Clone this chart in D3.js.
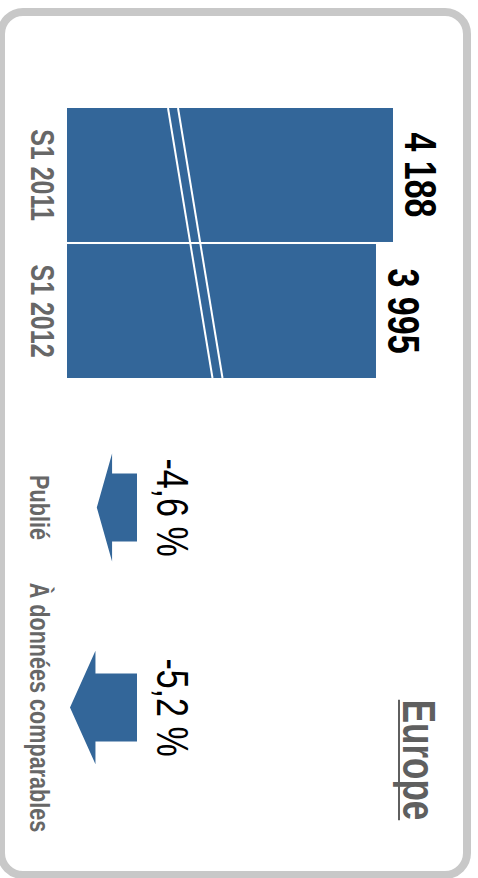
<!DOCTYPE html>
<html>
<head>
<meta charset="utf-8">
<script src="https://cdn.jsdelivr.net/npm/d3@7"></script>
<style>
  html, body { margin: 0; padding: 0; background: #ffffff; }
  svg { display: block; }
  text { font-family: "Liberation Sans", Arial, sans-serif; }
</style>
</head>
<body>
<svg id="chart" width="478" height="878"></svg>
<script>
// Half-year revenue, Europe
const periods = ["S1 2011", "S1 2012"];
const revenue = [4188, 3995];

// Change between the two half-years
const changeLabels = ["Publié", "À données comparables"];
const changeValues = [-4.6, -5.2];

const title = "Europe";

const W = 478, H = 878;
const svg = d3.select("#chart");

// French number formatting: space thousands separator, comma decimal
const fr = d3.formatLocale({
  decimal: ",", thousands: " ", grouping: [3],
  currency: ["", " €"], minus: "-"
});
const fmtInt = fr.format(",d");
const fmtPct = fr.format(".1f");

// The panel is laid out sideways: text reads top to bottom,
// glyphs are slightly tall, as in the printed slide.
const STRETCH = 1.3;
function sideText(sel, x, y) {
  return sel.attr("transform", `translate(${x},${y}) rotate(90) scale(1,${STRETCH})`)
    .attr("text-anchor", "middle");
}

// Rounded frame
svg.append("rect")
  .attr("x", 1).attr("y", 12)
  .attr("width", 466).attr("height", 863)
  .attr("rx", 22).attr("ry", 22)
  .attr("fill", "#ffffff")
  .attr("stroke", "#c8c8c8")
  .attr("stroke-width", 8);

const barColor = "#336699";
const labelGrey = "#676767";

// Bars: value runs along x (broken axis, so the domain does not start at 0)
const x = d3.scaleLinear().domain([490, 4188]).range([67, 393]);
const y = d3.scaleBand().domain(periods).range([108, 378]).paddingInner(0.015);

const bars = svg.append("g");
bars.selectAll("rect")
  .data(periods)
  .join("rect")
  .attr("x", x.range()[0])
  .attr("y", d => y(d))
  .attr("width", (d, i) => x(revenue[i]) - x.range()[0])
  .attr("height", y.bandwidth())
  .attr("fill", barColor);

// Axis-break marks: two parallel white slashes across both bars
const top0 = y.range()[0], bot0 = y.range()[1];
[0, 10].forEach(off => {
  bars.append("line")
    .attr("x1", 168 + off).attr("y1", top0)
    .attr("x2", 212.5 + off).attr("y2", bot0)
    .attr("stroke", "#ffffff")
    .attr("stroke-width", 2);
});

// Category labels
svg.append("g").selectAll("text")
  .data(periods)
  .join("text")
  .each(function (d) { sideText(d3.select(this), 30.5, y(d) + y.bandwidth() / 2); })
  .attr("font-size", 25)
  .attr("font-weight", "bold")
  .attr("fill", labelGrey)
  .text(d => d);

// Value labels at bar ends
svg.append("g").selectAll("text")
  .data(periods)
  .join("text")
  .each(function (d, i) { sideText(d3.select(this), x(revenue[i]) + 12, y(d) + y.bandwidth() / 2); })
  .attr("font-size", 34)
  .attr("font-weight", "bold")
  .attr("fill", "#000000")
  .text((d, i) => fmtInt(revenue[i]));

// Change arrows: pointing left (downward trend), length scaled on |change|
const c = d3.scalePoint().domain(changeLabels).range([407.5, 807.5]).padding(0.5);
const len = d3.scaleLinear().domain([3.7, 5.2]).range([0, 67]);
const arrowBase = 137, bodyHalf = 34;

svg.append("g").selectAll("path")
  .data(changeLabels)
  .join("path")
  .attr("d", (d, i) => {
    const L = len(Math.abs(changeValues[i]));
    const h = 0.38 * L;
    const hw = 50 + 0.1 * L;
    const cy = c(d);
    const neck = arrowBase - L + h;
    const pts = [
      [arrowBase, cy - bodyHalf], [neck, cy - bodyHalf], [neck, cy - hw],
      [arrowBase - L, cy], [neck, cy + hw], [neck, cy + bodyHalf], [arrowBase, cy + bodyHalf]
    ];
    return d3.line()(pts) + "Z";
  })
  .attr("fill", barColor);

// Change values
svg.append("g").selectAll("text")
  .data(changeLabels)
  .join("text")
  .each(function (d) { sideText(d3.select(this), 157, c(d)); })
  .attr("font-size", 34)
  .attr("fill", "#000000")
  .text((d, i) => fmtPct(changeValues[i]) + " %");

// Change labels
svg.append("g").selectAll("text")
  .data(changeLabels)
  .join("text")
  .each(function (d) { sideText(d3.select(this), 29.5, c(d)); })
  .attr("font-size", 21.6)
  .attr("font-weight", "bold")
  .attr("fill", labelGrey)
  .text(d => d);

// Title, underlined
const titleY = 760, titleX = 403;
const t = svg.append("text")
  .attr("font-size", 35)
  .attr("font-weight", "bold")
  .attr("fill", "#5f5f5f")
  .text(title);
sideText(t, titleX, titleY);
const tl = t.node().getComputedTextLength();
svg.append("line")
  .attr("x1", titleX - 4).attr("x2", titleX - 4)
  .attr("y1", titleY - tl / 2).attr("y2", titleY + tl / 2)
  .attr("stroke", "#5f5f5f")
  .attr("stroke-width", 2);
</script>
</body>
</html>
